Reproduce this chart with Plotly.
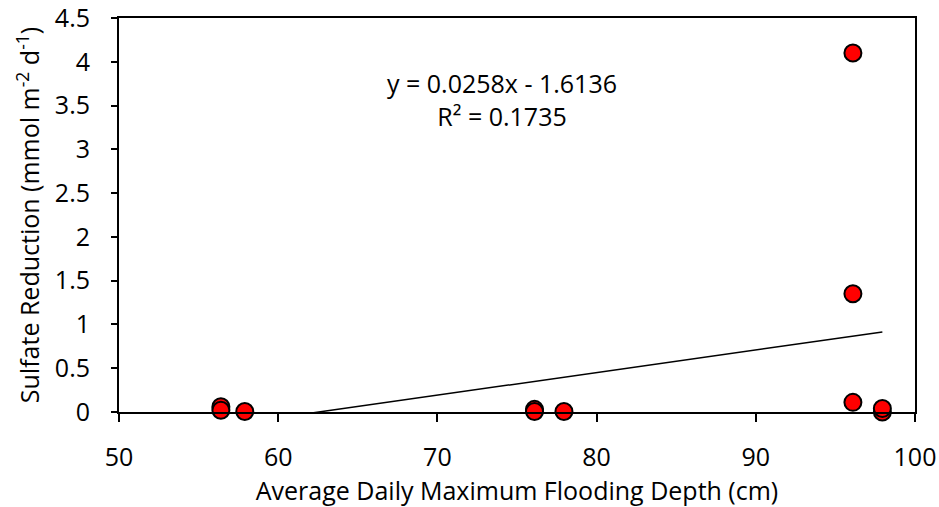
import plotly.graph_objects as go

depth = [56.4, 56.4, 57.9, 76.1, 76.1, 77.95, 96.1, 96.1, 96.1, 97.95, 97.95]
sulfate = [0.06, 0.02, 0.005, 0.03, 0.005, 0.005, 4.1, 1.35, 0.11, 0.0, 0.04]

slope = 0.0258
intercept = -1.6136
r2 = 0.1735
trend_x = [min(depth), max(depth)]
trend_y = [slope * v + intercept for v in trend_x]

FONT = "'Open Sans', sans-serif"
FS = 25

fig = go.Figure()
fig.add_trace(go.Scatter(x=trend_x, y=trend_y, mode="lines",
                         line=dict(color="black", width=1.5), showlegend=False,
                         hoverinfo="skip"))
fig.add_trace(go.Scatter(x=depth, y=sulfate, mode="markers", cliponaxis=False,
                         marker=dict(color="#ff0000", size=17,
                                     line=dict(color="black", width=2)),
                         showlegend=False))

fig.add_annotation(xref="x", yref="y", x=74.06, y=3.57,
                   text=f"y = {slope}x - {abs(intercept)}<br>R² = {r2}",
                   showarrow=False, align="center",
                   font=dict(family=FONT, size=FS, color="black"))

fig.update_layout(
    width=939, height=507,
    margin=dict(l=119, r=24, t=18, b=95),
    plot_bgcolor="white", paper_bgcolor="white",
    font=dict(family=FONT, size=FS, color="black"),
    xaxis=dict(range=[50, 100], tickvals=[50, 60, 70, 80, 90, 100],
               showgrid=False, zeroline=False, showline=True, linecolor="black",
               linewidth=2, mirror=True, ticks="outside", ticklen=8, tickwidth=2,
               tickcolor="black", automargin=False, ticklabelstandoff=14,
               ticklabeloverflow="allow",
               title=dict(text="Average Daily Maximum Flooding Depth (cm)",
                          font=dict(size=FS), standoff=10)),
    yaxis=dict(range=[0, 4.5], tickvals=[0, 0.5, 1, 1.5, 2, 2.5, 3, 3.5, 4, 4.5],
               ticktext=["0", "0.5", "1", "1.5", "2", "2.5", "3", "3.5", "4", "4.5"],
               showgrid=False, zeroline=False, showline=True, linecolor="black",
               linewidth=2, mirror=True, ticks="outside", ticklen=6, tickwidth=1.5,
               tickcolor="black", automargin=False, ticklabelstandoff=16,
               ticklabeloverflow="allow",
               title=dict(text="Sulfate Reduction (mmol m<sup>-2</sup> d<sup>-1</sup>)",
                          font=dict(size=FS), standoff=8)),
)

fig.write_html("out.html")
